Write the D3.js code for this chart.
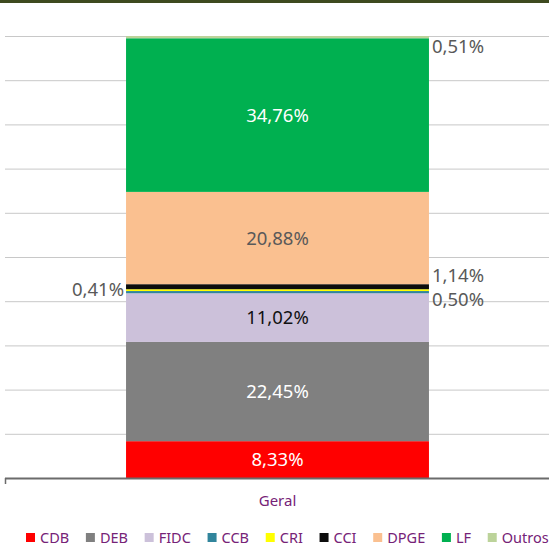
<!DOCTYPE html>
<html>
<head>
<meta charset="utf-8">
<title>Geral</title>
<style>
  body { margin: 0; background: #fff; }
  svg { display: block; font-family: "Noto Sans", sans-serif; }
  .grid line { stroke: #c8c8c8; stroke-width: 1; }
  .grid path { display: none; }
  .legend text { font-size: 14.5px; fill: #762277; }
</style>
</head>
<body>
<div id="chart"></div>
<script src="https://cdn.jsdelivr.net/npm/d3@7"></script>
<script>
(function (d3) {
  'use strict';

  // series in stacking order (bottom to top)
  var series = ['CDB', 'DEB', 'FIDC', 'CCB', 'CRI', 'CCI', 'DPGE', 'LF', 'Outros'];
  var values = [8.33, 22.45, 11.02, 0.50, 0.41, 1.14, 20.88, 34.76, 0.51];
  var category = ['Geral'];
  var colors = ['#ff0000', '#808080', '#ccc1da', '#31859c', '#ffff00', '#0d0d0d', '#fac090', '#00b050', '#bcd39a'];

  var width = 549;
  var height = 546;

  // how each data label sits (inside the segment, or left/right of the bar)
  var labelStyle = {
    CDB:    { side: 'in', fill: '#ffffff', dy: 0 },
    DEB:    { side: 'in', fill: '#ffffff', dy: 0 },
    FIDC:   { side: 'in', fill: '#111111', dy: 0 },
    CCB:    { side: 'right', fill: '#595959', dy: 7 },
    CRI:    { side: 'left', fill: '#595959', dy: -1 },
    CCI:    { side: 'right', fill: '#595959', dy: -11 },
    DPGE:   { side: 'in', fill: '#595959', dy: 0 },
    LF:     { side: 'in', fill: '#ffffff', dy: 0 },
    Outros: { side: 'right', fill: '#595959', dy: 9 }
  };

  var svg = d3.select('#chart')
    .append('svg')
    .attr('width', width)
    .attr('height', height);

  // dark band along the top edge
  svg.append('rect')
    .attr('x', 0).attr('y', 0)
    .attr('width', width).attr('height', 3)
    .attr('fill', '#3e4a1f');

  var x = d3.scaleBand()
    .domain(category)
    .range([5, 550])
    .padding(0.2855);

  var y = d3.scaleLinear()
    .domain([0, 100])
    .range([478, 36]);

  // gridlines
  svg.append('g')
    .attr('class', 'grid')
    .attr('transform', 'translate(5,0)')
    .call(d3.axisLeft(y).ticks(10).tickSize(-(width - 5)).tickFormat(''))
    .selectAll('.tick')
    .filter(function (d) { return d === 0; })
    .remove();

  var ends = d3.cumsum(values);
  var segs = series.map(function (s, i) {
    return { key: s, value: values[i], y0: ends[i] - values[i], y1: ends[i], color: colors[i] };
  });

  svg.append('g')
    .selectAll('rect')
    .data(segs)
    .enter()
    .append('rect')
    .attr('x', x('Geral'))
    .attr('width', x.bandwidth())
    .attr('y', function (d) { return y(d.y1); })
    .attr('height', function (d) { return y(d.y0) - y(d.y1); })
    .attr('fill', function (d) { return d.color; });

  // axis line with the small tick on the left end
  svg.append('line')
    .attr('x1', 5).attr('x2', width)
    .attr('y1', y(0) + 0.5).attr('y2', y(0) + 0.5)
    .attr('stroke', '#6b6b6b').attr('stroke-width', 2);
  svg.append('line')
    .attr('x1', 5.5).attr('x2', 5.5)
    .attr('y1', y(0)).attr('y2', y(0) + 6)
    .attr('stroke', '#6b6b6b').attr('stroke-width', 1.5);

  var fmt = function (v) { return v.toFixed(2).replace('.', ',') + '%'; };

  svg.append('g')
    .selectAll('text')
    .data(segs)
    .enter()
    .append('text')
    .attr('x', function (d) {
      var side = labelStyle[d.key].side;
      if (side === 'left') return x('Geral') - 2;
      if (side === 'right') return x('Geral') + x.bandwidth() + 3;
      return x('Geral') + x.bandwidth() / 2;
    })
    .attr('y', function (d) { return y((d.y0 + d.y1) / 2) + labelStyle[d.key].dy; })
    .attr('dy', '0.36em')
    .attr('text-anchor', function (d) {
      var side = labelStyle[d.key].side;
      return side === 'left' ? 'end' : side === 'right' ? 'start' : 'middle';
    })
    .attr('font-size', '18.5px')
    .attr('fill', function (d) { return labelStyle[d.key].fill; })
    .text(function (d) { return fmt(d.value); });

  // category label
  svg.append('text')
    .attr('x', x('Geral') + x.bandwidth() / 2)
    .attr('y', 506)
    .attr('text-anchor', 'middle')
    .attr('font-size', '15px')
    .attr('fill', '#762277')
    .text('Geral');

  // legend
  var legend = svg.append('g').attr('class', 'legend');
  var lx = 26;
  series.forEach(function (s, i) {
    var g = legend.append('g').attr('transform', 'translate(' + lx + ',0)');
    g.append('rect')
      .attr('x', 0).attr('y', 533)
      .attr('width', 9).attr('height', 9)
      .attr('fill', colors[i]);
    var t = g.append('text')
      .attr('x', 14).attr('y', 542.5)
      .text(s);
    lx += 14 + t.node().getComputedTextLength() + 16.7;
  });

})(window.d3);
</script>
</body>
</html>
